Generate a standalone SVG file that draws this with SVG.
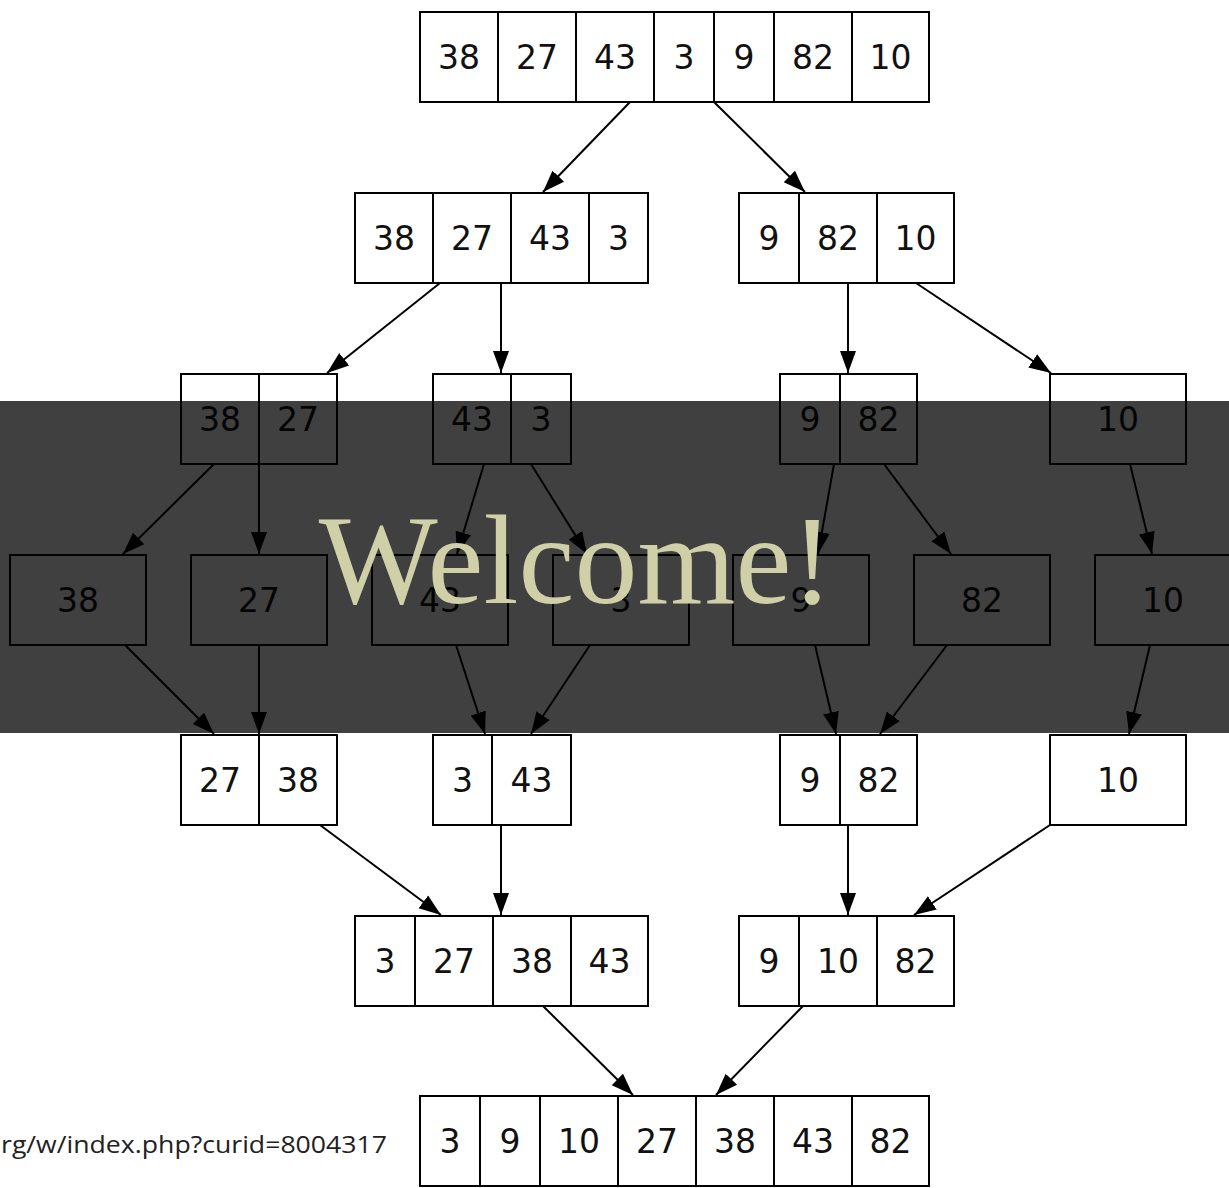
<svg xmlns="http://www.w3.org/2000/svg" width="1229" height="1188" viewBox="0 0 1229 1188">
<style>
.box{fill:#fff;stroke:#000;stroke-width:2}
.div{stroke:#000;stroke-width:2}
.n{font-family:"DejaVu Sans",sans-serif;font-size:33px;fill:#111;text-anchor:middle}
.e{stroke:#000;stroke-width:2;fill:none;marker-end:url(#ah)}
.cap{font-family:"Open Sans","Noto Sans",sans-serif;font-size:24px;fill:#222}
.wel{font-family:"Liberation Serif",serif;font-size:126px;fill:#d0d0a8;text-anchor:middle}
</style>
<defs>
<marker id="ah" markerUnits="userSpaceOnUse" markerWidth="24" markerHeight="18" refX="22" refY="9" orient="auto">
<path d="M0,1 L22,9 L0,17 Z" fill="#000"/>
</marker>
</defs>
<rect width="1229" height="1188" fill="#fff"/>
<g id="connectors">
<line class="e" x1="630" y1="102" x2="543" y2="192"/>
<line class="e" x1="714" y1="102" x2="805" y2="192"/>
<line class="e" x1="440" y1="283" x2="327" y2="373"/>
<line class="e" x1="501" y1="283" x2="501" y2="373"/>
<line class="e" x1="848" y1="283" x2="848" y2="373"/>
<line class="e" x1="916" y1="283" x2="1051" y2="373"/>
<line class="e" x1="214" y1="464" x2="123" y2="554"/>
<line class="e" x1="259" y1="464" x2="259" y2="554"/>
<line class="e" x1="484" y1="464" x2="457" y2="554"/>
<line class="e" x1="531" y1="464" x2="587" y2="554"/>
<line class="e" x1="834" y1="464" x2="818" y2="554"/>
<line class="e" x1="884" y1="464" x2="951" y2="554"/>
<line class="e" x1="1130" y1="464" x2="1152" y2="554"/>
<line class="e" x1="125" y1="645" x2="214" y2="734"/>
<line class="e" x1="259" y1="645" x2="259" y2="734"/>
<line class="e" x1="456" y1="645" x2="485" y2="734"/>
<line class="e" x1="590" y1="645" x2="531" y2="734"/>
<line class="e" x1="815" y1="645" x2="836" y2="734"/>
<line class="e" x1="947" y1="645" x2="880" y2="734"/>
<line class="e" x1="1150" y1="645" x2="1129" y2="734"/>
<line class="e" x1="320" y1="825" x2="441" y2="915"/>
<line class="e" x1="501" y1="825" x2="501" y2="915"/>
<line class="e" x1="848" y1="825" x2="848" y2="915"/>
<line class="e" x1="1050" y1="825" x2="914" y2="915"/>
<line class="e" x1="543" y1="1006" x2="633" y2="1095"/>
<line class="e" x1="803" y1="1006" x2="716" y2="1095"/>
</g>
<g id="n1">
<rect class="box" x="420" y="12" width="509" height="90"/>
<path class="div" d="M498,12V102M576,12V102M654,12V102M714,12V102M774,12V102M852,12V102"/>
<text class="n" x="459" y="69">38</text><text class="n" x="537" y="69">27</text><text class="n" x="615" y="69">43</text><text class="n" x="684" y="69">3</text><text class="n" x="744" y="69">9</text><text class="n" x="813" y="69">82</text><text class="n" x="890.5" y="69">10</text>
</g>
<g id="n2a">
<rect class="box" x="355" y="193" width="293" height="90"/>
<path class="div" d="M433,193V283M511,193V283M589,193V283"/>
<text class="n" x="394" y="250">38</text><text class="n" x="472" y="250">27</text><text class="n" x="550" y="250">43</text><text class="n" x="618.5" y="250">3</text>
</g>
<g id="n2b">
<rect class="box" x="739" y="193" width="215" height="90"/>
<path class="div" d="M799,193V283M877,193V283"/>
<text class="n" x="769" y="250">9</text><text class="n" x="838" y="250">82</text><text class="n" x="915.5" y="250">10</text>
</g>
<g id="n3a">
<rect class="box" x="181" y="374" width="156" height="90"/>
<path class="div" d="M259,374V464"/>
<text class="n" x="220" y="431">38</text><text class="n" x="298" y="431">27</text>
</g>
<g id="n3b">
<rect class="box" x="433" y="374" width="138" height="90"/>
<path class="div" d="M511,374V464"/>
<text class="n" x="472" y="431">43</text><text class="n" x="541" y="431">3</text>
</g>
<g id="n3c">
<rect class="box" x="780" y="374" width="137" height="90"/>
<path class="div" d="M840,374V464"/>
<text class="n" x="810" y="431">9</text><text class="n" x="878.5" y="431">82</text>
</g>
<g id="n3d">
<rect class="box" x="1050" y="374" width="136" height="90"/>
<text class="n" x="1118" y="431">10</text>
</g>
<g id="n4a"><rect class="box" x="10" y="555" width="136" height="90"/><text class="n" x="78" y="612">38</text></g>
<g id="n4b"><rect class="box" x="191" y="555" width="136" height="90"/><text class="n" x="259" y="612">27</text></g>
<g id="n4c"><rect class="box" x="372" y="555" width="136" height="90"/><text class="n" x="440" y="612">43</text></g>
<g id="n4d"><rect class="box" x="553" y="555" width="136" height="90"/><text class="n" x="621" y="612">3</text></g>
<g id="n4e"><rect class="box" x="733" y="555" width="136" height="90"/><text class="n" x="801" y="612">9</text></g>
<g id="n4f"><rect class="box" x="914" y="555" width="136" height="90"/><text class="n" x="982" y="612">82</text></g>
<g id="n4g"><rect class="box" x="1095" y="555" width="136" height="90"/><text class="n" x="1163" y="612">10</text></g>
<g id="n5a">
<rect class="box" x="181" y="735" width="156" height="90"/>
<path class="div" d="M259,735V825"/>
<text class="n" x="220" y="792">27</text><text class="n" x="298" y="792">38</text>
</g>
<g id="n5b">
<rect class="box" x="433" y="735" width="138" height="90"/>
<path class="div" d="M492,735V825"/>
<text class="n" x="462.5" y="792">3</text><text class="n" x="531.5" y="792">43</text>
</g>
<g id="n5c">
<rect class="box" x="780" y="735" width="137" height="90"/>
<path class="div" d="M840,735V825"/>
<text class="n" x="810" y="792">9</text><text class="n" x="878.5" y="792">82</text>
</g>
<g id="n5d">
<rect class="box" x="1050" y="735" width="136" height="90"/>
<text class="n" x="1118" y="792">10</text>
</g>
<g id="n6a">
<rect class="box" x="355" y="916" width="293" height="90"/>
<path class="div" d="M415,916V1006M493,916V1006M571,916V1006"/>
<text class="n" x="385" y="973">3</text><text class="n" x="454" y="973">27</text><text class="n" x="532" y="973">38</text><text class="n" x="609.5" y="973">43</text>
</g>
<g id="n6b">
<rect class="box" x="739" y="916" width="215" height="90"/>
<path class="div" d="M799,916V1006M877,916V1006"/>
<text class="n" x="769" y="973">9</text><text class="n" x="838" y="973">10</text><text class="n" x="915.5" y="973">82</text>
</g>
<g id="n7">
<rect class="box" x="420" y="1096" width="509" height="90"/>
<path class="div" d="M480,1096V1186M540,1096V1186M618,1096V1186M696,1096V1186M774,1096V1186M852,1096V1186"/>
<text class="n" x="450" y="1153">3</text><text class="n" x="510" y="1153">9</text><text class="n" x="579" y="1153">10</text><text class="n" x="657" y="1153">27</text><text class="n" x="735" y="1153">38</text><text class="n" x="813" y="1153">43</text><text class="n" x="890.5" y="1153">82</text>
</g>
<text class="cap" x="1" y="1153" textLength="386" lengthAdjust="spacingAndGlyphs">rg/w/index.php?curid=8004317</text>
<rect x="0" y="401" width="1229" height="332" fill="#000" fill-opacity="0.75"/>
<text class="wel" x="576" y="603">Welcome!</text>
</svg>
